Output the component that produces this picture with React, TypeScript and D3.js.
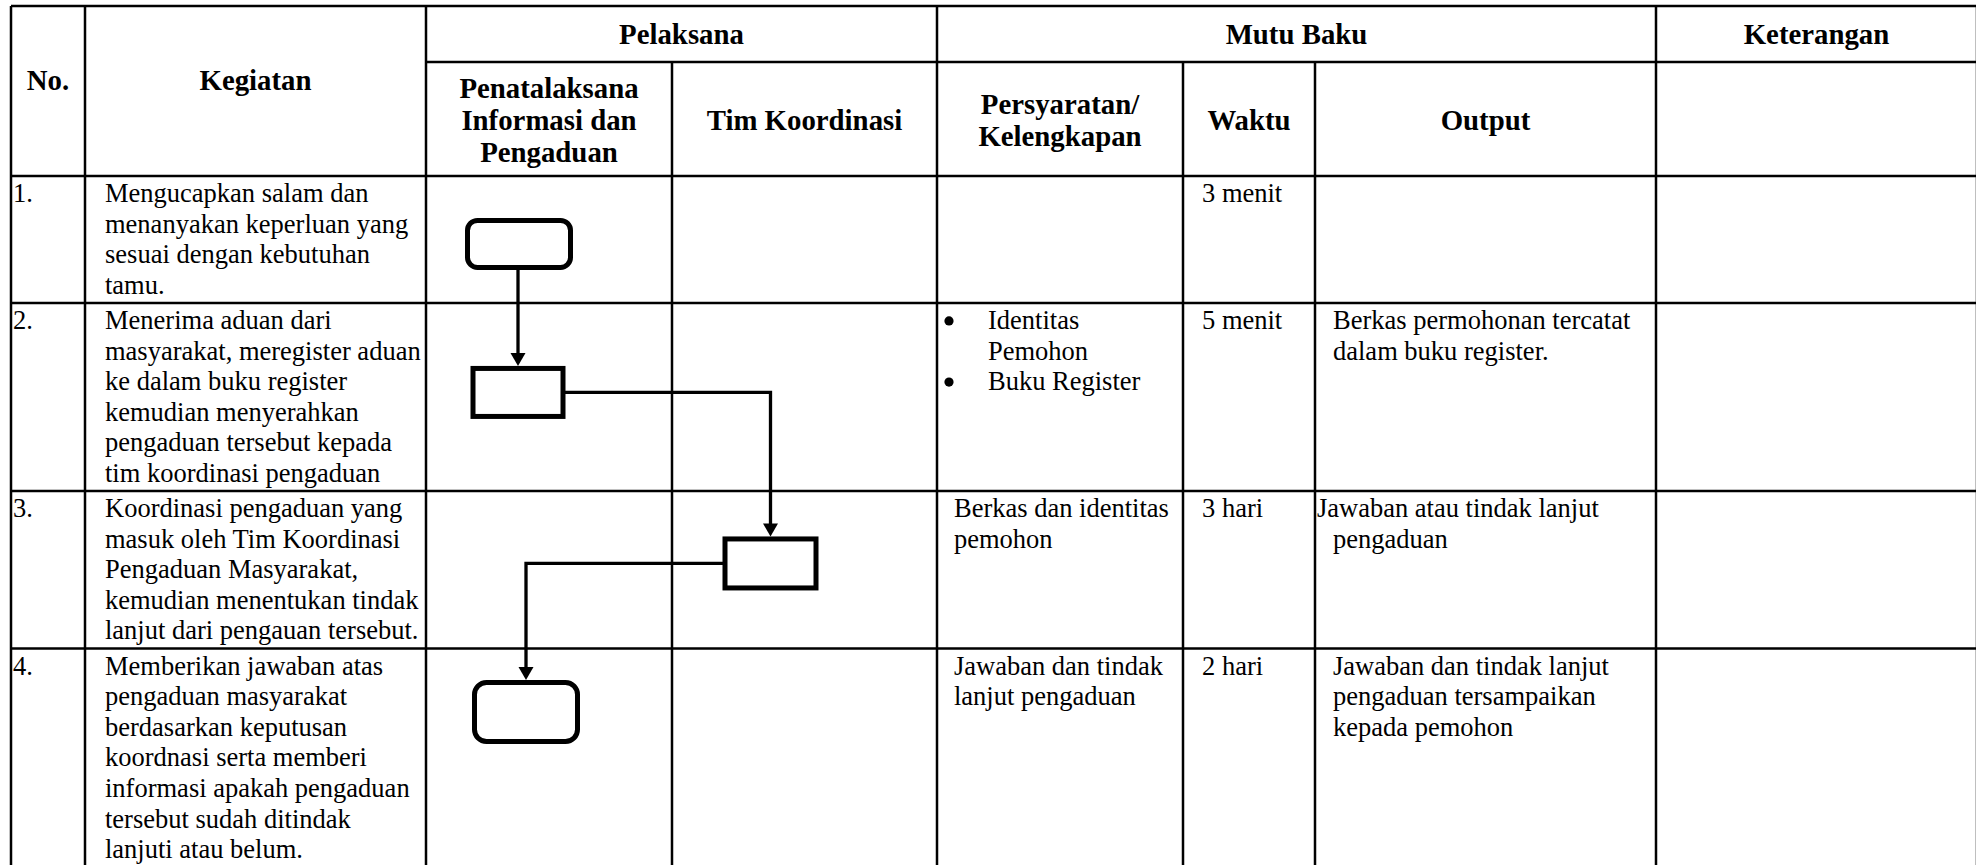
import React from "react";
import * as d3 from "d3";

// ---------------- DATA ----------------
const FIXED_HEADERS = ["No.", "Kegiatan"];
const GROUP_HEADERS = ["Pelaksana", "Mutu Baku", "Keterangan"];
const GROUP_SPANS = [
  [2, 4],
  [4, 7],
  [7, 8],
];
const SUB_HEADERS = [
  ["Penatalaksana", "Informasi dan", "Pengaduan"],
  ["Tim Koordinasi"],
  ["Persyaratan/", "Kelengkapan"],
  ["Waktu"],
  ["Output"],
  [],
];
const STEP_NUMBERS = ["1.", "2.", "3.", "4."];
const KEGIATAN = [
  ["Mengucapkan salam dan", "menanyakan keperluan yang", "sesuai dengan kebutuhan", "tamu."],
  [
    "Menerima aduan dari",
    "masyarakat, meregister aduan",
    "ke dalam buku register",
    "kemudian menyerahkan",
    "pengaduan tersebut kepada",
    "tim koordinasi pengaduan",
  ],
  [
    "Koordinasi pengaduan yang",
    "masuk oleh Tim Koordinasi",
    "Pengaduan Masyarakat,",
    "kemudian menentukan tindak",
    "lanjut dari pengauan tersebut.",
  ],
  [
    "Memberikan jawaban atas",
    "pengaduan masyarakat",
    "berdasarkan keputusan",
    "koordnasi serta memberi",
    "informasi apakah pengaduan",
    "tersebut sudah ditindak",
    "lanjuti atau belum.",
  ],
];
const PERSYARATAN = [
  [],
  ["• Identitas", "  Pemohon", "• Buku Register"],
  ["Berkas dan identitas", "pemohon"],
  ["Jawaban dan tindak", "lanjut pengaduan"],
];
const WAKTU = ["3 menit", "5 menit", "3 hari", "2 hari"];
const OUTPUT = [
  [],
  ["Berkas permohonan tercatat", "dalam buku register."],
  ["Jawaban atau tindak lanjut", "pengaduan"],
  ["Jawaban dan tindak lanjut", "pengaduan tersampaikan", "kepada pemohon"],
];
const KETERANGAN = ["", "", "", ""];
// flow: lane column index (2 = Penatalaksana, 3 = Tim Koordinasi) and shape per step
const FLOW_LANE = [2, 2, 3, 2];
const FLOW_SHAPE = ["terminator", "process", "process", "terminator"];

// ---------------- LAYOUT ----------------
const W = 1976;
const H = 865;
const COL_WIDTHS = [74, 341, 246, 265, 246, 132, 341, 321];
const X0 = 11;
const Y0 = 6;
const GROUP_H = 56;
const HEADER_H = 170;
const LINE_H = 30.6;
const ROW_PAD = 4.5;
const FIRST_BASE = 26;
const BODY_FS = 26.5;
const HEAD_FS = 28.8;
const HEAD_LINE = 32;
const GRID_W = 2.5;
const NODE_STROKE = 5;
const CONN_W = 3.3;
const NODE_DX = [-30, -31, -34, -23];
const NODE_FRAC = [0.535, 0.476, 0.46, 0.29];
const NODE_W = [108, 95, 96, 108];
const NODE_H = [52, 53, 54, 64];
const NODE_R = [10, 0, 0, 12];
const FONT = "'Liberation Serif', 'Times New Roman', serif";

export default function App() {
  const edges = [X0, ...d3.cumsum(COL_WIDTHS).map((c) => X0 + c)];
  const xScale = d3.scaleLinear().domain(d3.range(edges.length)).range(edges);

  const headerBottom = Y0 + HEADER_H;
  const rowHeights = KEGIATAN.map((l) => l.length * LINE_H + ROW_PAD);
  const rowEdges = [headerBottom, ...d3.cumsum(rowHeights).map((c) => headerBottom + c)];
  const yScale = d3.scaleLinear().domain(d3.range(rowEdges.length)).range(rowEdges);
  const bottom = H + 2;
  const right = edges[edges.length - 1];

  const groupLineY = Y0 + GROUP_H;
  const subCenter = groupLineY + 68;

  // grid
  const hLines: [number, number, number][] = [
    [Y0, X0, right],
    [groupLineY, edges[2], right],
    ...rowEdges.map((y) => [y, X0, right] as [number, number, number]),
  ];
  const vLines: [number, number, number][] = edges.map((x, i) => {
    const fullHeight = i <= 2 || i === 4 || i === 7 || i === 8;
    return [x, fullHeight ? Y0 : groupLineY, bottom];
  });

  // nodes
  const nodes = FLOW_LANE.map((lane, i) => {
    const cx = xScale(lane + 0.5) + NODE_DX[i];
    const cy = yScale(i + NODE_FRAC[i]);
    const w = NODE_W[i] - NODE_STROKE;
    const h = NODE_H[i] - NODE_STROKE;
    return { cx, cy, w, h, shape: FLOW_SHAPE[i], r: NODE_R[i], outerTop: cy - NODE_H[i] / 2 };
  });

  const arrowHead = (x: number, tip: number) =>
    `M${x},${tip} L${x - 7.5},${tip - 13} L${x + 7.5},${tip - 13} Z`;

  const connectors = nodes.slice(1).map((to, k) => {
    const from = nodes[k];
    const tip = to.outerTop;
    let d: string;
    if (Math.abs(from.cx - to.cx) < 8) {
      d = `M${to.cx},${from.cy + from.h / 2} L${to.cx},${tip - 10}`;
    } else if (to.cx > from.cx) {
      d = `M${from.cx + from.w / 2},${from.cy} L${to.cx},${from.cy} L${to.cx},${tip - 10}`;
    } else {
      d = `M${from.cx - from.w / 2},${from.cy} L${to.cx},${from.cy} L${to.cx},${tip - 10}`;
    }
    return { d, head: arrowHead(to.cx, tip) };
  });

  const textProps = { fontFamily: FONT, fill: "#000" };

  const bodyLines = (lines: string[], x: number, row: number, firstIndent = 0) =>
    lines.map((t, j) => (
      <text
        key={j}
        x={x + (j === 0 ? firstIndent : 0)}
        y={rowEdges[row] + FIRST_BASE + j * LINE_H}
        fontSize={BODY_FS}
        {...textProps}
      >
        {t}
      </text>
    ));

  return (
    <svg
      width={W}
      height={H}
      viewBox={`0 0 ${W} ${H}`}
      style={{ position: "absolute", left: 0, top: 0, background: "#fff" }}
    >
      <rect x={0} y={0} width={W} height={H} fill="#fff" />
      {/* grid */}
      <g stroke="#000" strokeWidth={GRID_W}>
        {hLines.map(([y, x1, x2], i) => (
          <line key={"h" + i} x1={x1} x2={x2} y1={y} y2={y} />
        ))}
        {vLines.map(([x, y1, y2], i) => (
          <line key={"v" + i} x1={x} x2={x} y1={y1} y2={y2} />
        ))}
      </g>

      {/* header */}
      <g fontWeight="bold">
        {FIXED_HEADERS.map((t, i) => (
          <text
            key={t}
            x={xScale(i + 0.5)}
            y={Y0 + 84}
            textAnchor="middle"
            fontSize={HEAD_FS}
            {...textProps}
          >
            {t}
          </text>
        ))}
        {GROUP_HEADERS.map((t, i) => (
          <text
            key={t}
            x={(xScale(GROUP_SPANS[i][0]) + xScale(GROUP_SPANS[i][1])) / 2}
            y={Y0 + 38}
            textAnchor="middle"
            fontSize={HEAD_FS}
            {...textProps}
          >
            {t}
          </text>
        ))}
        {SUB_HEADERS.map((lines, i) =>
          lines.map((t, j) => (
            <text
              key={i + "-" + j}
              x={xScale(i + 2.5)}
              y={subCenter + (j - (lines.length - 1) / 2) * HEAD_LINE}
              textAnchor="middle"
              fontSize={HEAD_FS}
              {...textProps}
            >
              {t}
            </text>
          ))
        )}
      </g>

      {/* body */}
      <g>
        {STEP_NUMBERS.map((t, i) => (
          <text key={"n" + i} x={X0 + 2} y={rowEdges[i] + FIRST_BASE} fontSize={BODY_FS} {...textProps}>
            {t}
          </text>
        ))}
        {KEGIATAN.map((lines, i) => (
          <g key={"k" + i}>{bodyLines(lines, xScale(1) + 20, i)}</g>
        ))}
        {PERSYARATAN.map((lines, i) => (
          <g key={"p" + i}>
            {lines.map((t, j) => {
              const y = rowEdges[i] + FIRST_BASE + j * LINE_H;
              const isBullet = t.startsWith("• ");
              const isCont = t.startsWith("  ");
              if (isBullet || isCont) {
                return (
                  <g key={j}>
                    {isBullet && <circle cx={xScale(4) + 12} cy={y - 8} r={4.6} fill="#000" />}
                    <text x={xScale(4) + 51} y={y} fontSize={BODY_FS} {...textProps}>
                      {t.slice(2)}
                    </text>
                  </g>
                );
              }
              return (
                <text key={j} x={xScale(4) + 17} y={y} fontSize={BODY_FS} {...textProps}>
                  {t}
                </text>
              );
            })}
          </g>
        ))}
        {WAKTU.map((t, i) => (
          <text key={"w" + i} x={xScale(5) + 19} y={rowEdges[i] + FIRST_BASE} fontSize={BODY_FS} {...textProps}>
            {t}
          </text>
        ))}
        {OUTPUT.map((lines, i) => (
          <g key={"o" + i}>{bodyLines(lines, xScale(6) + 18, i, i === 2 ? -16 : 0)}</g>
        ))}
        {KETERANGAN.map((t, i) => (
          <text key={"c" + i} x={xScale(7) + 18} y={rowEdges[i] + FIRST_BASE} fontSize={BODY_FS} {...textProps}>
            {t}
          </text>
        ))}
      </g>

      {/* flow connectors */}
      <g>
        {connectors.map((c, i) => (
          <g key={"c" + i}>
            <path d={c.d} fill="none" stroke="#000" strokeWidth={CONN_W} strokeLinejoin="miter" />
            <path d={c.head} fill="#000" />
          </g>
        ))}
      </g>

      {/* flow nodes */}
      <g>
        {nodes.map((n, i) => (
          <rect
            key={"node" + i}
            x={n.cx - n.w / 2}
            y={n.cy - n.h / 2}
            width={n.w}
            height={n.h}
            rx={n.r}
            ry={n.r}
            fill="#fff"
            stroke="#000"
            strokeWidth={NODE_STROKE}
          />
        ))}
      </g>
    </svg>
  );
}
